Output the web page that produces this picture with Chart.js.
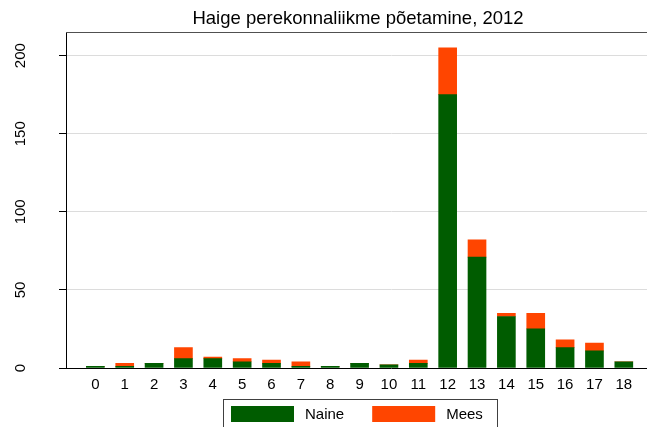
<!DOCTYPE html>
<html><head><meta charset="utf-8">
<script src="https://cdn.jsdelivr.net/npm/chart.js@4.4.0/dist/chart.umd.min.js"></script>
<style>html,body{margin:0;padding:0;overflow:hidden;background:#fff;width:647px;height:427px}
canvas{display:block}</style></head>
<body><canvas id="c" width="716" height="427" style="width:716px;height:427px"></canvas>
<script>
const titleText = 'Haige perekonnaliikme põetamine, 2012';
const categories = [0,1,2,3,4,5,6,7,8,9,10,11,12,13,14,15,16,17,18];
const naine = [1,1,3,6,6,4,3,1,1,3,2,3,175,71,33,25,13,11,4];
const mees  = [0,2,0,7,1,2,2,3,0,0,0,2,30,11,2,10,5,5,0];
const yTicks = [0,50,100,150,200];
const seriesNames = ['Naine','Mees'];
const seriesColors = ['#005c00','#ff4500'];

const FONT = '"Liberation Sans", Arial, sans-serif';

const decor = {
  id: 'decor',
  afterDraw(chart) {
    const {ctx, chartArea: a, scales: {y}} = chart;
    ctx.save();
    // top frame line of plot region
    ctx.strokeStyle = '#505050'; ctx.lineWidth = 1;
    ctx.beginPath(); ctx.moveTo(a.left, Math.round(a.top) + 0.5); ctx.lineTo(a.right, Math.round(a.top) + 0.5); ctx.stroke();
    // rotated y tick labels
    ctx.fillStyle = '#000'; ctx.font = '15px ' + FONT;
    ctx.textAlign = 'center'; ctx.textBaseline = 'alphabetic';
    yTicks.forEach(v => {
      const py = y.getPixelForValue(v);
      ctx.save(); ctx.translate(a.left - 41, py); ctx.rotate(-Math.PI / 2);
      ctx.fillText(String(v), 0, 0); ctx.restore();
    });
    // legend
    const top = Math.round(a.bottom) + 31;
    const w1 = ctx.measureText(seriesNames[0]).width, w2 = ctx.measureText(seriesNames[1]).width;
    const sw = 63, gapT = 11, gapI = 28, padL = 8, padR = 14;
    const total = padL + sw + gapT + w1 + gapI + sw + gapT + w2 + padR;
    const x0 = Math.round(chart.width / 2 - total / 2 + 1.5);
    ctx.strokeStyle = '#404040';
    ctx.strokeRect(x0 + 0.5, top + 0.5, Math.round(total), 100);
    ctx.textAlign = 'left'; ctx.textBaseline = 'middle';
    let x = x0 + padL;
    [w1, w2].forEach((w, i) => {
      ctx.fillStyle = seriesColors[i];
      ctx.fillRect(x, top + 7, sw, 16);
      x += sw + gapT;
      ctx.fillStyle = '#000';
      ctx.fillText(seriesNames[i], x, top + 15.5);
      x += w + gapI;
    });
    ctx.restore();
  }
};

new Chart(document.getElementById('c'), {
  type: 'bar',
  data: {
    datasets: [
      { label: seriesNames[0], data: categories.map((c, i) => ({x: c, y: naine[i]})), backgroundColor: seriesColors[0], barThickness: 18 },
      { label: seriesNames[1], data: categories.map((c, i) => ({x: c, y: mees[i]})), backgroundColor: seriesColors[1], barThickness: 18 }
    ]
  },
  options: {
    responsive: false,
    animation: false,
    layout: { padding: { left: 0, right: 0, top: 0, bottom: 33 } },
    plugins: {
      legend: { display: false },
      tooltip: { enabled: false },
      title: { display: true, text: titleText, color: '#000', font: { family: FONT, size: 18.5, weight: 'normal' }, padding: { top: 8, bottom: 2 } }
    },
    scales: {
      x: {
        type: 'linear', stacked: true, min: -1, max: 21.14, bounds: 'data', offset: false,
        afterBuildTicks: ax => { ax.ticks = categories.map(v => ({value: v})); },
        grid: { display: false },
        border: { display: true, color: '#000', width: 1 },
        ticks: { color: '#000', font: { family: FONT, size: 15 }, padding: 0, maxRotation: 0, autoSkip: false, callback: v => String(v) }
      },
      y: {
        stacked: true, min: 0, max: 215, bounds: 'data',
        afterBuildTicks: ax => { ax.ticks = yTicks.map(v => ({value: v})); },
        afterFit: ax => { ax.width = 66; },
        grid: { color: c => c.tick && c.tick.value === 0 ? 'rgba(0,0,0,0)' : '#dcdcdc', lineWidth: 1, drawTicks: true, tickLength: 7, tickColor: '#000' },
        border: { display: true, color: '#000', width: 1 },
        ticks: { display: false }
      }
    }
  },
  plugins: [decor]
});
</script></body></html>
